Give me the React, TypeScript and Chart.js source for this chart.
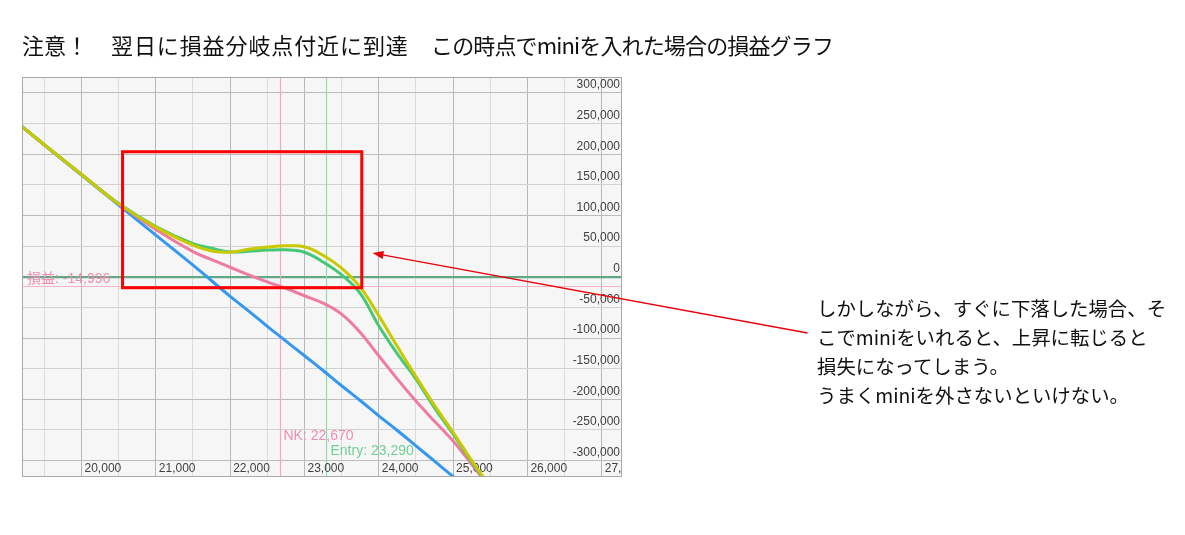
import React, { useEffect, useRef } from "react";
import { Chart, registerables } from "chart.js";

Chart.register(...registerables);

// ---- data ----
const prices = [19200, 19500, 20000, 20500, 21000, 21500, 21750, 22000, 22250, 22500, 22750, 23000, 23250, 23500, 23750, 24000, 24250, 24500, 24750, 25000, 25250, 25500];
const blueLine = [245000, 215000, 166000, 117000, 68000, 19000, -6500, -32000, -56000, -81000, -105000, -129000, -153000, -178000, -202000, -227000, -251000, -276000, -301000, -326000, -350000, -375000];
const pinkLine = [245000, 215500, 167000, 119000, 77000, 41000, 28000, 15500, 3000, -8500, -19000, -31000, -43000, -61000, -91000, -129000, -167000, -203000, -236000, -268000, -306000, -345000];
const greenLine = [245000, 215500, 167000, 119500, 82000, 54000, 46500, 40500, 41500, 43500, 44000, 40000, 24000, 3000, -27000, -80000, -126000, -167000, -214000, -257000, -302000, -345000];
const yellowLine = [245000, 215500, 167000, 119000, 81000, 51500, 42000, 40000, 45000, 48500, 50500, 49000, 35000, 14000, -17000, -63500, -114000, -163000, -210000, -254000, -300000, -343000];

const xTickValues = [19500, 20000, 20500, 21000, 21500, 22000, 22500, 23000, 23500, 24000, 24500, 25000, 25500, 26000, 26500, 27000];
const xLabelValues = [20000, 21000, 22000, 23000, 24000, 25000, 26000, 27000];
const yTickValues = [300000, 250000, 200000, 150000, 100000, 50000, 0, -50000, -100000, -150000, -200000, -250000, -300000];

const nkPrice = 22670;
const entryPrice = 23290;
const pnlValue = -14996;

const xRange = [19199, 27273];
const yRange = [-326900, 326100];

// highlight box & arrow (data units)
const boxX = [20552, 23771];
const boxY = [-17900, 204100];
const arrowTip = [23915, 38800];
const arrowTail = [29770, -91800];

const fmt = (v: number) => v.toLocaleString("en-US");

const TITLE_PARTS = ["注意！", "翌日に損益分岐点付近に到達", "この時点でminiを入れた場合の損益グラフ"];
const NOTE = [
  "しかしながら、すぐに下落した場合、そ",
  "こでminiをいれると、上昇に転じると",
  "損失になってしまう。",
  "うまくminiを外さないといけない。",
];

const decor = {
  id: "decor",
  beforeDraw(chart: any) {
    const { ctx, chartArea: a } = chart;
    ctx.save();
    ctx.fillStyle = "#f6f6f6";
    ctx.fillRect(a.left, a.top, a.right - a.left, a.bottom - a.top);
    ctx.restore();
  },
  beforeDatasetsDraw(chart: any) {
    const { ctx, chartArea: a, scales } = chart;
    const x = scales.x;
    const y = scales.y;
    ctx.save();
    ctx.beginPath();
    ctx.rect(a.left, a.top, a.right - a.left, a.bottom - a.top);
    ctx.clip();

    const hline = (v: number, color: string, w: number) => {
      const py = Math.round(y.getPixelForValue(v)) + 0.5;
      ctx.strokeStyle = color;
      ctx.lineWidth = w;
      ctx.beginPath();
      ctx.moveTo(a.left, py);
      ctx.lineTo(a.right, py);
      ctx.stroke();
      return py;
    };
    const vline = (v: number, color: string, w: number) => {
      const px = Math.round(x.getPixelForValue(v)) + 0.5;
      ctx.strokeStyle = color;
      ctx.lineWidth = w;
      ctx.beginPath();
      ctx.moveTo(px, a.top);
      ctx.lineTo(px, a.bottom);
      ctx.stroke();
      return px;
    };

    const pnlY = hline(pnlValue, "#f6b3c6", 1.2);
    hline(0, "#5fa985", 1.3);
    const nkX = vline(nkPrice, "#f2a7bf", 1.2);
    const enX = vline(entryPrice, "#92dbac", 1.2);

    // tick labels inside the plot
    ctx.font = "12px 'Liberation Sans', Arial, sans-serif";
    ctx.fillStyle = "#404040";
    ctx.textBaseline = "middle";
    ctx.textAlign = "left";
    xLabelValues.forEach((v) => ctx.fillText(fmt(v), x.getPixelForValue(v) + 3, a.bottom - 8));
    ctx.textAlign = "right";
    yTickValues.forEach((v) => ctx.fillText(fmt(v), a.right - 2, y.getPixelForValue(v) - 8));

    // reference labels
    ctx.font = "14px 'Liberation Sans', Arial, 'Noto Sans CJK JP', sans-serif";
    ctx.textAlign = "left";
    ctx.fillStyle = "#f18db0";
    ctx.fillText("損益: " + fmt(pnlValue), a.left + 5, pnlY - 7.5);
    ctx.fillText("NK: " + fmt(nkPrice), nkX + 3, a.bottom - 41);
    ctx.fillStyle = "#6fd095";
    ctx.fillText("Entry: " + fmt(entryPrice), enX + 4, a.bottom - 26);
    ctx.restore();
  },
  afterDraw(chart: any) {
    const { ctx, chartArea: a, scales } = chart;
    const x = scales.x;
    const y = scales.y;
    ctx.save();
    // plot border
    ctx.strokeStyle = "#a8a8a8";
    ctx.lineWidth = 1;
    ctx.strokeRect(Math.round(a.left) + 0.5, Math.round(a.top) + 0.5, Math.round(a.right - a.left) - 1, Math.round(a.bottom - a.top) - 1);

    // red highlight box
    const x1 = x.getPixelForValue(boxX[0]);
    const x2 = x.getPixelForValue(boxX[1]);
    const y1 = y.getPixelForValue(boxY[1]);
    const y2 = y.getPixelForValue(boxY[0]);
    ctx.strokeStyle = "#ff0000";
    ctx.lineWidth = 3;
    ctx.strokeRect(x1, y1, x2 - x1, y2 - y1);

    // arrow
    const tx = x.getPixelForValue(arrowTip[0]);
    const ty = y.getPixelForValue(arrowTip[1]);
    const sx = x.getPixelForValue(arrowTail[0]);
    const sy = y.getPixelForValue(arrowTail[1]);
    const ang = Math.atan2(ty - sy, tx - sx);
    const hl = 11;
    const hw = 4;
    ctx.strokeStyle = "#e8000b";
    ctx.lineWidth = 1.3;
    ctx.beginPath();
    ctx.moveTo(sx, sy);
    ctx.lineTo(tx - Math.cos(ang) * hl * 0.8, ty - Math.sin(ang) * hl * 0.8);
    ctx.stroke();
    ctx.fillStyle = "#e8000b";
    ctx.beginPath();
    ctx.moveTo(tx, ty);
    ctx.lineTo(tx - Math.cos(ang) * hl - Math.sin(ang) * hw, ty - Math.sin(ang) * hl + Math.cos(ang) * hw);
    ctx.lineTo(tx - Math.cos(ang) * hl + Math.sin(ang) * hw, ty - Math.sin(ang) * hl - Math.cos(ang) * hw);
    ctx.closePath();
    ctx.fill();
    ctx.restore();
  },
};

const toPoints = (ys: number[]) => prices.map((p, i) => ({ x: p, y: ys[i] }));

const titleStyle = {
  position: "absolute" as const,
  top: 29,
  fontFamily: "'Noto Sans CJK JP', sans-serif",
  fontSize: 22,
  lineHeight: "30px",
  color: "#111",
  whiteSpace: "nowrap" as const,
};

export default function App() {
  const ref = useRef<HTMLCanvasElement | null>(null);

  useEffect(() => {
    document.body.style.margin = "0";
    const canvas = ref.current;
    if (!canvas) return;
    const lineDs = (label: string, data: number[], color: string) => ({
      label,
      data: toPoints(data),
      borderColor: color,
      backgroundColor: color,
      borderWidth: 3,
      pointRadius: 0,
      fill: false,
      tension: 0.4,
    });
    const chart = new Chart(canvas, {
      type: "line",
      data: {
        datasets: [
          lineDs("mini追加", yellowLine, "#c9c900"),
          lineDs("翌日", greenLine, "#46c777"),
          lineDs("当日", pinkLine, "#ee7ba1"),
          lineDs("満期", blueLine, "#3597ef"),
        ],
      },
      options: {
        animation: false,
        responsive: false,
        devicePixelRatio: 1,
        layout: { padding: { left: 22, top: 77, right: 563, bottom: 58 } },
        plugins: { legend: { display: false }, tooltip: { enabled: false } },
        scales: {
          x: {
            type: "linear",
            min: xRange[0],
            max: xRange[1],
            afterBuildTicks: (s: any) => {
              s.ticks = xTickValues.map((v) => ({ value: v }));
            },
            ticks: { display: false },
            border: { display: false },
            grid: {
              drawTicks: false,
              color: (c: any) => (c.tick && c.tick.value % 1000 === 0 ? "#b8b8b8" : "#dcdcdc"),
            },
          },
          y: {
            type: "linear",
            min: yRange[0],
            max: yRange[1],
            afterBuildTicks: (s: any) => {
              s.ticks = yTickValues.map((v) => ({ value: v }));
            },
            ticks: { display: false },
            border: { display: false },
            grid: {
              drawTicks: false,
              color: (c: any) =>
                c.tick && c.tick.value === 0 ? "#5fa985" : c.tick && c.tick.value % 100000 === 0 ? "#bcbcbc" : "#d2d2d2",
            },
          },
        },
      },
      plugins: [decor],
    });
    return () => chart.destroy();
  }, []);

  return (
    <div style={{ position: "absolute", left: 0, top: 0, width: 1185, height: 535, background: "#fff", overflow: "hidden" }}>
      <canvas ref={ref} width={1185} height={535} style={{ position: "absolute", left: 0, top: 0, width: 1185, height: 535 }} />
      <div style={{ ...titleStyle, left: 22 }}>{TITLE_PARTS[0]}</div>
      <div style={{ ...titleStyle, left: 111, letterSpacing: "0.9px" }}>{TITLE_PARTS[1]}</div>
      <div style={{ ...titleStyle, left: 431, letterSpacing: "-0.85px" }}>{TITLE_PARTS[2]}</div>
      <div
        style={{
          position: "absolute",
          left: 817,
          top: 293,
          fontFamily: "'Noto Sans CJK JP', sans-serif",
          fontSize: 19.4,
          lineHeight: "29px",
          color: "#111",
          whiteSpace: "nowrap",
        }}
      >
        {NOTE.map((l, i) => (
          <div key={i}>{l}</div>
        ))}
      </div>
    </div>
  );
}
